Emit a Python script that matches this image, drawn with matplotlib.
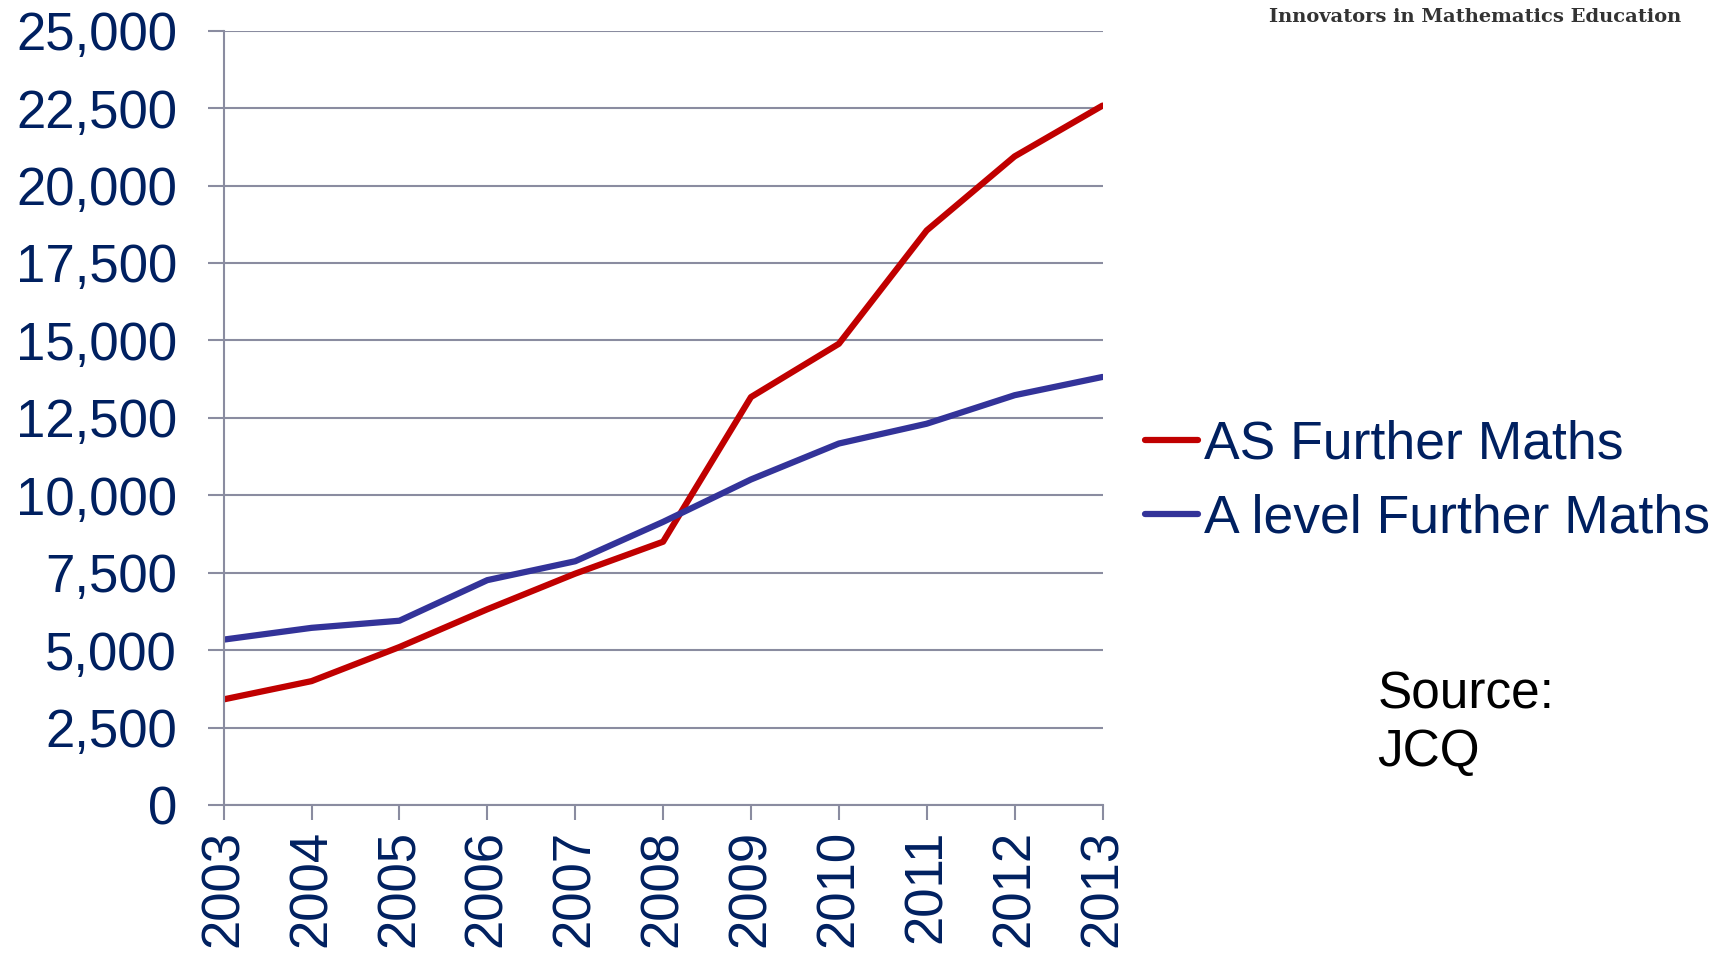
import matplotlib
matplotlib.use('Agg')
import matplotlib.pyplot as plt
from matplotlib.ticker import FuncFormatter, MultipleLocator

years = [2003, 2004, 2005, 2006, 2007, 2008, 2009, 2010, 2011, 2012, 2013]
as_further = [3410, 4000, 5100, 6320, 7470, 8500, 13170, 14890, 18550, 20940, 22580]
a_level_further = [5340, 5720, 5950, 7260, 7870, 9140, 10510, 11670, 12310, 13230, 13820]
series_names = ['AS Further Maths', 'A level Further Maths']

navy = '#002060'
grid_col = '#8a8ca0'

plt.rcParams['font.family'] = ['Liberation Sans', 'DejaVu Sans']

fig = plt.figure(figsize=(17.27, 9.57), dpi=100)
ax = fig.add_axes([0.1295, 0.1588, 0.5089, 0.8092])

ax.plot(years, as_further, color='#c00000', lw=4.5, label=series_names[0], solid_capstyle='round')
ax.plot(years, a_level_further, color='#333399', lw=4.5, label=series_names[1], solid_capstyle='round')

ax.set_xlim(2003, 2013)
ax.set_ylim(0, 25000)
ax.yaxis.set_major_locator(MultipleLocator(2500))
ax.set_xticks(years)
ax.set_xticklabels([str(y) for y in years], rotation=90)
ax.yaxis.set_major_formatter(FuncFormatter(lambda v, p: f'{int(v):,}'))

ax.grid(axis='y', color=grid_col, lw=1.5)
ax.set_axisbelow(True)
for s in ['top', 'right']:
    ax.spines[s].set_visible(False)
for s in ['left', 'bottom']:
    ax.spines[s].set_color(grid_col)
    ax.spines[s].set_linewidth(1.5)

ax.tick_params(axis='y', length=11.5, width=1.5, color=grid_col, pad=22, labelsize=38, labelcolor=navy)
ax.tick_params(axis='x', length=11, width=1.5, color=grid_col, pad=7, labelsize=38, labelcolor=navy)

leg = ax.legend(loc='center left', bbox_to_anchor=(0.663, 0.497), bbox_transform=fig.transFigure,
                frameon=False, fontsize=38.5, handlelength=1.0, handletextpad=0.1,
                labelspacing=0.45, borderpad=0, borderaxespad=0)
for t in leg.get_texts():
    t.set_color(navy)

fig.text(0.7975, 0.244, 'Source:\nJCQ', fontsize=37, color='black', ha='left', va='center',
         linespacing=1.22)

fig.text(0.735, 0.977, 'Innovators in Mathematics Education', fontsize=14, color='#333333',
         family='DejaVu Serif', weight='bold', ha='left', va='baseline')

fig.savefig('out.png', dpi=100)
